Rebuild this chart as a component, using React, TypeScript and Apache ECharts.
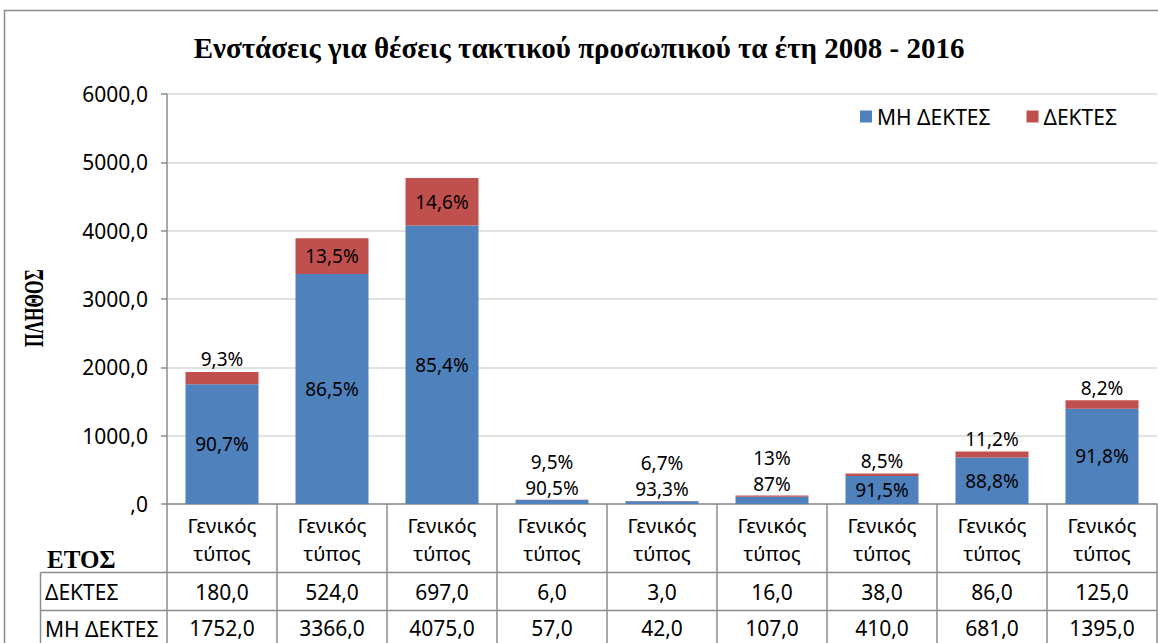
import React, { useEffect, useRef } from "react";
import * as echarts from "echarts";

const categories = [
  "Γενικός\nτύπος", "Γενικός\nτύπος", "Γενικός\nτύπος", "Γενικός\nτύπος", "Γενικός\nτύπος",
  "Γενικός\nτύπος", "Γενικός\nτύπος", "Γενικός\nτύπος", "Γενικός\nτύπος",
];
const accepted = [180, 524, 697, 6, 3, 16, 38, 86, 125];
const rejected = [1752, 3366, 4075, 57, 42, 107, 410, 681, 1395];
const pctAccepted = ["9,3%", "13,5%", "14,6%", "9,5%", "6,7%", "13%", "8,5%", "11,2%", "8,2%"];
const pctRejected = ["90,7%", "86,5%", "85,4%", "90,5%", "93,3%", "87%", "91,5%", "88,8%", "91,8%"];
const yTicks = [0, 1000, 2000, 3000, 4000, 5000, 6000];
const seriesNames = ["ΜΗ ΔΕΚΤΕΣ", "ΔΕΚΤΕΣ"];
const rowLabels = ["ΔΕΚΤΕΣ", "ΜΗ ΔΕΚΤΕΣ"];
const titleText = "Ενστάσεις για θέσεις τακτικού προσωπικού τα έτη 2008 - 2016";
const yName = "ΠΛΗΘΟΣ";
const xName = "ΕΤΟΣ";

const SANS = "'Noto Sans', 'Open Sans', sans-serif";
const SERIF = "'Liberation Serif', 'DejaVu Serif', serif";
const fmt = (v: number) => (v === 0 ? ",0" : `${v},0`);

export default function App() {
  const ref = useRef<HTMLDivElement>(null);
  useEffect(() => {
    if (!ref.current) return;
    const chart = echarts.init(ref.current, undefined, { renderer: "svg" });
    const GRID_LEFT = 167;
    const GRID_TOP = 94;
    const GRID_BOTTOM = 139;
    const lineColor = "#8c8c8c";

    const valueAxis = (data: string[], margin: number) => ({
      type: "category",
      gridIndex: 0,
      position: "bottom",
      data,
      axisLine: { show: false },
      axisTick: { show: false },
      splitLine: { show: false },
      axisLabel: {
        interval: 0,
        margin,
        verticalAlign: "middle",
        fontFamily: SANS,
        fontSize: 21,
        color: "#000",
      },
    });

    chart.setOption({
      animation: false,
      backgroundColor: "#fff",
      title: {
        text: titleText,
        left: "center",
        top: 28,
        textStyle: { fontFamily: SERIF, fontWeight: "bold", fontSize: 29, color: "#000" },
      },
      legend: {
        data: seriesNames,
        left: 855,
        top: 101,
        icon: "rect",
        itemWidth: 12,
        itemHeight: 12,
        itemGap: 36,
        textStyle: { fontFamily: SANS, fontSize: 21, color: "#000" },
      },
      grid: { left: GRID_LEFT, right: 1, top: GRID_TOP, bottom: GRID_BOTTOM, containLabel: false },
      xAxis: [
        {
          type: "category",
          data: categories,
          boundaryGap: true,
          axisLine: { show: true, lineStyle: { color: lineColor, width: 1.5 } },
          axisTick: { show: true, inside: false, length: 145, lineStyle: { color: lineColor, width: 1.5 } },
          axisLabel: {
            interval: 0,
            margin: 35,
            verticalAlign: "middle",
            lineHeight: 28,
            fontFamily: SANS,
            fontSize: 20.5,
            color: "#000",
          },
        },
        valueAxis(accepted.map(fmt), 88),
        valueAxis(rejected.map(fmt), 124),
      ],
      yAxis: {
        type: "value",
        min: yTicks[0],
        max: yTicks[yTicks.length - 1],
        interval: yTicks[1] - yTicks[0],
        axisLine: { show: true, lineStyle: { color: lineColor, width: 1.5 } },
        axisTick: { show: true, length: 6, lineStyle: { color: lineColor, width: 1.5 } },
        splitLine: { show: true, lineStyle: { color: "#d9d9d9", width: 1.5 } },
        axisLabel: {
          margin: 19,
          fontFamily: SANS,
          fontSize: 21,
          color: "#000",
          formatter: (v: number) => fmt(v),
        },
      },
      series: [
        {
          name: seriesNames[0],
          type: "bar",
          stack: "total",
          barWidth: 73,
          itemStyle: { color: "#4F81BD" },
          label: {
            show: true,
            fontFamily: SANS,
            fontSize: 19,
            color: "#000",
            formatter: (p: any) => pctRejected[p.dataIndex],
          },
          data: rejected.map((v) => ({
            value: v,
            label: { position: v >= 400 ? "inside" : "top", distance: 3 },
          })),
        },
        {
          name: seriesNames[1],
          type: "bar",
          stack: "total",
          barWidth: 73,
          itemStyle: { color: "#C0504D" },
          label: {
            show: true,
            fontFamily: SANS,
            fontSize: 19,
            color: "#000",
            formatter: (p: any) => pctAccepted[p.dataIndex],
          },
          data: accepted.map((v, i) => ({
            value: v,
            label: {
              position: v >= 500 ? "inside" : "top",
              distance: rejected[i] >= 400 ? 3 : 28,
            },
          })),
        },
      ],
      graphic: [
        {
          type: "rect",
          shape: { x: 4.5, y: 10.5, width: 1300, height: 800 },
          style: { fill: "none", stroke: "#8c8c8c", lineWidth: 1.5 },
          silent: true,
        },
        {
          type: "line",
          shape: { x1: 40.5, y1: 572.5, x2: 1157, y2: 572.5 },
          style: { stroke: lineColor, lineWidth: 1.5 },
        },
        {
          type: "line",
          shape: { x1: 40.5, y1: 610.5, x2: 1157, y2: 610.5 },
          style: { stroke: lineColor, lineWidth: 1.5 },
        },
        {
          type: "line",
          shape: { x1: 40.5, y1: 572.5, x2: 40.5, y2: 650 },
          style: { stroke: lineColor, lineWidth: 1.5 },
        },
        {
          type: "text",
          x: 45,
          y: 592,
          style: { text: rowLabels[0], font: `21px ${SANS}`, fill: "#000", verticalAlign: "middle", align: "left" },
        },
        {
          type: "text",
          x: 45,
          y: 629,
          style: { text: rowLabels[1], font: `21px ${SANS}`, fill: "#000", verticalAlign: "middle", align: "left" },
        },
        {
          type: "text",
          x: 47,
          y: 559,
          style: { text: xName, font: `bold 25px ${SERIF}`, fill: "#000", verticalAlign: "middle", align: "left" },
        },
        {
          type: "text",
          x: 33,
          y: 308,
          rotation: Math.PI / 2,
          scaleX: 0.62,
          style: { text: yName, font: `bold 28px ${SERIF}`, fill: "#000", verticalAlign: "middle", align: "center" },
        },
      ],
    });
    return () => chart.dispose();
  }, []);
  return (
    <div
      ref={ref}
      style={{ position: "fixed", left: 0, top: 0, width: 1158, height: 643, background: "#fff" }}
    />
  );
}
